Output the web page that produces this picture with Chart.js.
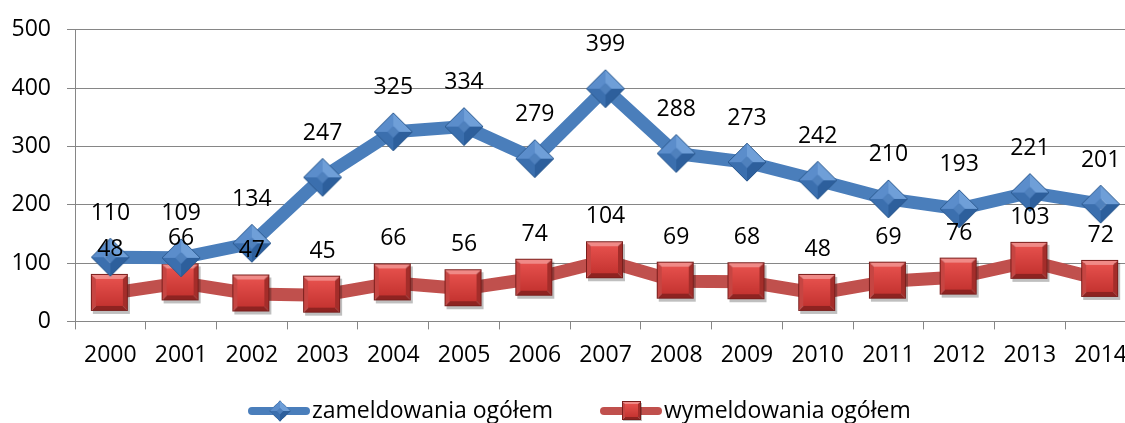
<!DOCTYPE html>
<html>
<head>
<meta charset="utf-8">
<script src="https://cdn.jsdelivr.net/npm/chart.js@4/dist/chart.umd.min.js"></script>
<style>
  html, body { margin: 0; padding: 0; background: #fff; overflow: hidden; }
  #wrap { width: 1125px; height: 423px; overflow: hidden; }
</style>
</head>
<body>
<div id="wrap"><canvas id="chart" width="1153" height="423"></canvas></div>
<script>
// Data
const years = ['2000', '2001', '2002', '2003', '2004', '2005', '2006', '2007',
               '2008', '2009', '2010', '2011', '2012', '2013', '2014'];
const zameldowania = [110, 109, 134, 247, 325, 334, 279, 399, 288, 273, 242, 210, 193, 221, 201];
const wymeldowania = [48, 66, 47, 45, 66, 56, 74, 104, 69, 68, 48, 69, 76, 103, 72];
const yTicks = [0, 100, 200, 300, 400, 500];

const FONT = "'Open Sans', 'Liberation Sans', sans-serif";
const FONT_SIZE = 23;

// Beveled diamond marker
function makeDiamond(size) {
    const c = document.createElement('canvas');
    c.width = size + 4; c.height = size + 4;
    const g = c.getContext('2d');
    const m = (size + 4) / 2, h = size / 2, k = h * 0.3;
    const faces = [
        [[m, m - h], [m + h, m], [m + k, m], [m, m - k], '#6f9fd8'],
        [[m + h, m], [m, m + h], [m, m + k], [m + k, m], '#2d5f9c'],
        [[m, m + h], [m - h, m], [m - k, m], [m, m + k], '#3b6fae'],
        [[m - h, m], [m, m - h], [m, m - k], [m - k, m], '#5b8dcb']
    ];
    faces.forEach(f => {
        g.beginPath();
        g.moveTo(f[0][0], f[0][1]);
        for (let i = 1; i < 4; i++) g.lineTo(f[i][0], f[i][1]);
        g.closePath();
        g.fillStyle = f[4];
        g.fill();
    });
    g.beginPath();
    g.moveTo(m, m - k); g.lineTo(m + k, m); g.lineTo(m, m + k); g.lineTo(m - k, m);
    g.closePath();
    g.fillStyle = '#4f81bd';
    g.fill();
    g.beginPath();
    g.moveTo(m, m - h); g.lineTo(m + h, m); g.lineTo(m, m + h); g.lineTo(m - h, m);
    g.closePath();
    g.strokeStyle = '#2c5a8f';
    g.lineWidth = 1;
    g.stroke();
    return c;
}

// Beveled square marker
function makeSquare(size) {
    const c = document.createElement('canvas');
    c.width = size + 6; c.height = size + 6;
    const g = c.getContext('2d');
    const x0 = 2, y0 = 2, s = size, b = 5;
    g.fillStyle = 'rgba(0,0,0,0.25)';
    g.fillRect(x0 + 2, y0 + 3, s, s);
    const faces = [
        [[x0, y0], [x0 + s, y0], [x0 + s - b, y0 + b], [x0 + b, y0 + b], '#f08a87'],
        [[x0 + s, y0], [x0 + s, y0 + s], [x0 + s - b, y0 + s - b], [x0 + s - b, y0 + b], '#a42d2a'],
        [[x0 + s, y0 + s], [x0, y0 + s], [x0 + b, y0 + s - b], [x0 + s - b, y0 + s - b], '#8e2321'],
        [[x0, y0 + s], [x0, y0], [x0 + b, y0 + b], [x0 + b, y0 + s - b], '#c64542']
    ];
    faces.forEach(f => {
        g.beginPath();
        g.moveTo(f[0][0], f[0][1]);
        for (let i = 1; i < 4; i++) g.lineTo(f[i][0], f[i][1]);
        g.closePath();
        g.fillStyle = f[4];
        g.fill();
    });
    const grad = g.createLinearGradient(0, y0 + b, 0, y0 + s - b);
    grad.addColorStop(0, '#e5504c');
    grad.addColorStop(1, '#c53431');
    g.fillStyle = grad;
    g.fillRect(x0 + b, y0 + b, s - 2 * b, s - 2 * b);
    g.strokeStyle = '#7a1e1c';
    g.lineWidth = 1;
    g.strokeRect(x0 + 0.5, y0 + 0.5, s - 1, s - 1);
    return c;
}

const diamondImg = makeDiamond(38);
const squareImg = makeSquare(37);

// Value labels above points
const valueLabels = {
    id: 'valueLabels',
    afterDatasetsDraw(chart) {
        const ctx = chart.ctx;
        ctx.save();
        ctx.font = FONT_SIZE + 'px ' + FONT;
        ctx.fillStyle = '#000';
        ctx.textAlign = 'center';
        ctx.textBaseline = 'middle';
        chart.data.datasets.forEach((ds, i) => {
            chart.getDatasetMeta(i).data.forEach((pt, j) => {
                ctx.fillText(ds.data[j], pt.x, pt.y - 44);
            });
        });
        ctx.restore();
    }
};

// Legend with line + marker sample
const lineLegend = {
    id: 'lineLegend',
    afterDraw(chart) {
        const ctx = chart.ctx;
        const y = 411;
        const items = [
            { x: 248, ds: chart.data.datasets[0], img: diamondImg, scale: 0.55 },
            { x: 600, ds: chart.data.datasets[1], img: squareImg, scale: 0.5 }
        ];
        ctx.save();
        ctx.font = FONT_SIZE + 'px ' + FONT;
        ctx.textBaseline = 'middle';
        ctx.fillStyle = '#000';
        items.forEach(it => {
            ctx.strokeStyle = it.ds.borderColor;
            ctx.lineWidth = 8;
            ctx.lineCap = 'round';
            ctx.beginPath();
            ctx.moveTo(it.x + 4, y);
            ctx.lineTo(it.x + 58, y);
            ctx.stroke();
            const w = it.img.width * it.scale, h = it.img.height * it.scale;
            ctx.drawImage(it.img, it.x + 32 - w / 2, y - h / 2, w, h);
            ctx.fillText(it.ds.label, it.x + 64, y);
        });
        ctx.restore();
    }
};

new Chart(document.getElementById('chart').getContext('2d'), {
    type: 'line',
    data: {
        labels: years,
        datasets: [{
            label: 'zameldowania ogółem',
            data: zameldowania,
            borderColor: '#4a7ebb',
            borderWidth: 13,
            pointStyle: diamondImg,
            tension: 0
        }, {
            label: 'wymeldowania ogółem',
            data: wymeldowania,
            borderColor: '#c0504d',
            borderWidth: 13,
            pointStyle: squareImg,
            tension: 0
        }]
    },
    options: {
        responsive: false,
        animation: false,
        layout: { padding: { top: 25, right: 0, bottom: 42, left: 0 } },
        plugins: {
            legend: { display: false },
            tooltip: { enabled: false }
        },
        scales: {
            x: {
                offset: true,
                grid: {
                    offset: true,
                    drawOnChartArea: false,
                    color: '#868686',
                    tickLength: 8
                },
                border: { color: '#868686' },
                ticks: {
                    font: { family: FONT, size: FONT_SIZE },
                    color: '#000',
                    padding: 12,
                    maxRotation: 0,
                    autoSkip: false
                }
            },
            y: {
                min: 0,
                max: 500,
                afterBuildTicks(axis) {
                    axis.ticks = yTicks.map(v => ({ value: v }));
                },
                afterFit(axis) {
                    axis.width = 75;
                },
                grid: {
                    color: '#868686',
                    tickLength: 8
                },
                border: { color: '#868686' },
                ticks: {
                    font: { family: FONT, size: FONT_SIZE },
                    color: '#000',
                    padding: 16
                }
            }
        }
    },
    plugins: [valueLabels, lineLegend]
});
</script>
</body>
</html>
